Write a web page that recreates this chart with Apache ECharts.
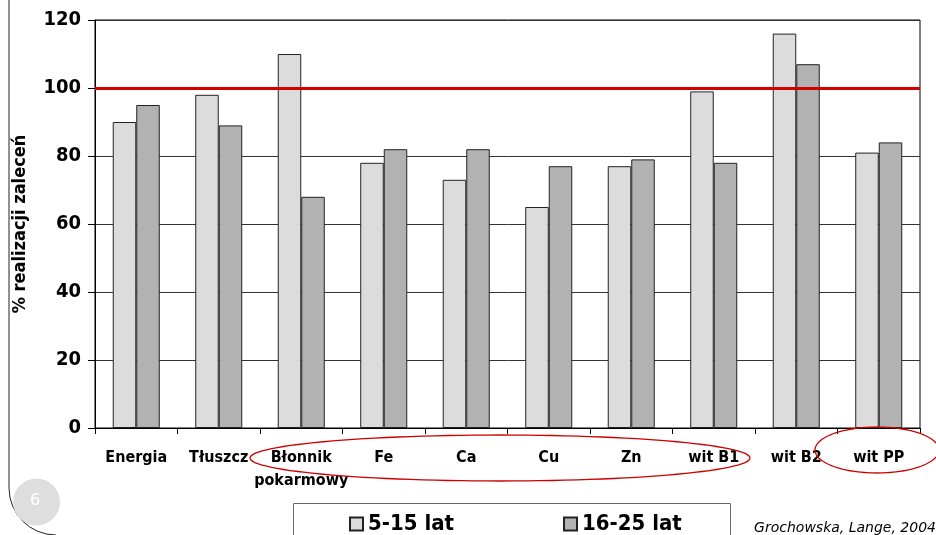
<!DOCTYPE html>
<html><head><meta charset="utf-8">
<script src="https://cdn.jsdelivr.net/npm/echarts@6/dist/echarts.min.js"></script>
<style>html,body{margin:0;padding:0;background:#fff}#c{width:936px;height:535px}</style>
</head><body><div id="c"></div>
<script>
const categories = ['Energia','Tłuszcz','Błonnik\npokarmowy','Fe','Ca','Cu','Zn','wit B1','wit B2','wit PP'];
const seriesNames = ['5-15 lat','16-25 lat'];
const young = [90, 98, 110, 78, 73, 65, 77, 99, 116, 81];
const older = [95, 89, 68, 82, 82, 77, 79, 78, 107, 84];
const yTicks = [0, 20, 40, 60, 80, 100, 120];
const refLine = 100;

function ellipsePts(cx, cy, rx, ry){
  const pts = [];
  for (let i = 0; i <= 120; i++) {
    const a = i / 120 * Math.PI * 2;
    pts.push([cx + rx * Math.cos(a), cy + ry * Math.sin(a)]);
  }
  return pts;
}

const FONT = '"DejaVu Sans Condensed","DejaVu Sans",sans-serif';
const chart = echarts.init(document.getElementById('c'), null, {renderer:'canvas'});
chart.setOption({
  animation:false,
  backgroundColor:'#fff',
  grid:{left:95, right:16, top:20, bottom:107, show:true, borderColor:'#000', borderWidth:1, containLabel:false},
  xAxis:{type:'category', data:categories,
    axisLine:{lineStyle:{color:'#000', width:1}},
    axisTick:{show:true, length:6, lineStyle:{color:'#000'}},
    axisLabel:{fontFamily:FONT, fontWeight:'bold', fontSize:16, color:'#000', margin:18, lineHeight:23, interval:0}
  },
  yAxis:{type:'value', min:yTicks[0], max:yTicks[yTicks.length-1], interval:20,
    name:'% realizacji zaleceń', nameLocation:'middle', nameRotate:90, nameGap:66,
    nameTextStyle:{fontFamily:FONT, fontWeight:'bold', fontSize:18, color:'#000'},
    axisLine:{show:true, lineStyle:{color:'#000'}},
    axisTick:{show:true, inside:false, length:7, lineStyle:{color:'#000'}},
    axisLabel:{fontFamily:FONT, fontWeight:'bold', fontSize:20, color:'#000', margin:14},
    splitLine:{show:true, lineStyle:{color:'#333', width:1}}
  },
  legend:[
    {data:[seriesNames[0]], left:349, top:513, padding:0, itemWidth:13, itemHeight:13, itemGap:6,
     textStyle:{fontFamily:FONT, fontWeight:'bold', fontSize:22, color:'#000'}, icon:'rect'},
    {data:[seriesNames[1]], left:563, top:513, padding:0, itemWidth:13, itemHeight:13, itemGap:6,
     textStyle:{fontFamily:FONT, fontWeight:'bold', fontSize:22, color:'#000'}, icon:'rect'}
  ],
  series:[
    {name:seriesNames[0], type:'bar', data:young, barGap:'0%', barCategoryGap:'43%',
     itemStyle:{color:'#dcdcdc', borderColor:'#222', borderWidth:1},
     markLine:{silent:true, symbol:['none','none'], label:{show:false},
       lineStyle:{color:'#d40000', width:3, type:'solid'}, data:[{yAxis:refLine}], z:10}
    },
    {name:seriesNames[1], type:'bar', data:older,
     itemStyle:{color:'#b2b2b2', borderColor:'#222', borderWidth:1}}
  ],
  graphic:[
    {type:'line', shape:{x1:9, y1:0, x2:9, y2:488}, style:{stroke:'#222', lineWidth:1}, z:1},
    {type:'arc', shape:{cx:56, cy:488, r:47, startAngle:Math.PI/2, endAngle:Math.PI}, style:{stroke:'#222', fill:null, lineWidth:1}, z:1},
    {type:'circle', shape:{cx:36.5, cy:502, r:23.5}, style:{fill:'#dedede'}, z:1},
    {type:'text', left:30, top:493, style:{text:'6', fill:'#fff', font:'16px "DejaVu Sans",sans-serif'}, z:2},
    {type:'rect', shape:{x:293.5, y:503.5, width:437, height:40}, style:{fill:'#fff', stroke:'#666', lineWidth:1}, z:0},
    {type:'polyline', shape:{points:ellipsePts(500, 458, 250, 23)}, style:{fill:null, stroke:'#cc0000', lineWidth:1.3}, z:20},
    {type:'polyline', shape:{points:ellipsePts(877, 450, 62, 23)}, style:{fill:null, stroke:'#cc0000', lineWidth:1.3}, z:20},
    {type:'text', right:0, top:521, style:{text:'Grochowska, Lange, 2004', fill:'#000', font:'italic 14px "DejaVu Sans",sans-serif'}, z:5}
  ]
});
</script></body></html>
